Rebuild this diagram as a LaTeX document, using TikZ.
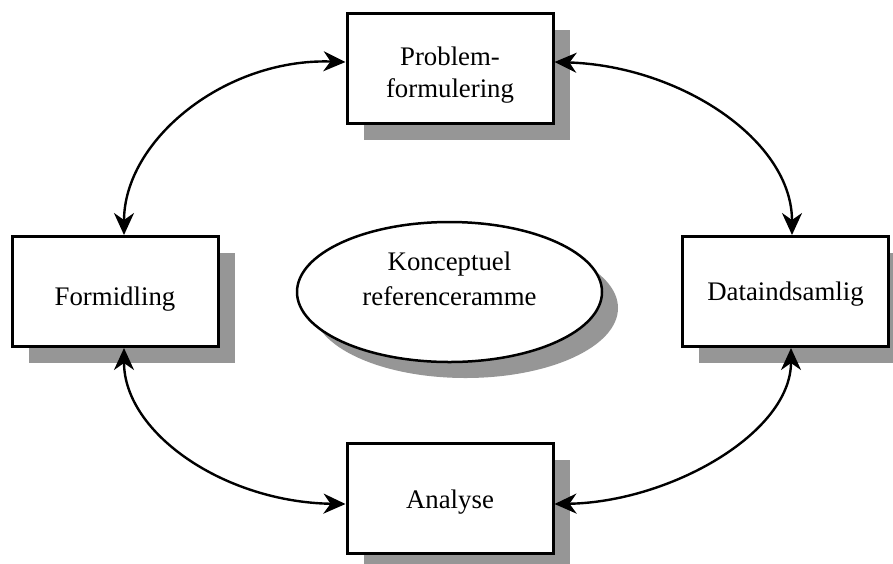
\documentclass[tikz,border=0pt]{standalone}
\usepackage{fontspec}
\setmainfont{Liberation Serif}
\usetikzlibrary{shapes.geometric,shadows,arrows.meta}
\definecolor{shadowgray}{RGB}{150,150,150}
\begin{document}
\begin{tikzpicture}[x=0.5pt,y=-0.5pt,
  boxshape/.style={draw=black, line width=1.5pt, fill=white, rectangle,
    minimum width=103pt, minimum height=55pt, inner sep=0pt,
    drop shadow={shadow xshift=8.25pt, shadow yshift=-8.25pt, opacity=1, fill=shadowgray}},
  lbl/.style={align=center, inner sep=0pt, font=\fontsize{13.4}{16}\selectfont},
  conn/.style={line width=1.2pt, {Stealth[length=11pt,width=10pt,inset=3.5pt]}-{Stealth[length=11pt,width=10pt,inset=3.5pt]}}
]
\useasboundingbox (0,0) rectangle (893,563);
\clip (0,0) rectangle (893,563);

% nodes
\node[boxshape, label={[lbl, yshift=-3.5pt]center:Problem-\\formulering}] (pf) at (450,68) {};
\node[boxshape, label={[lbl, yshift=-3.75pt]center:Formidling}] (form) at (115,291.5) {};
\node[boxshape, label={[lbl, yshift=-1.25pt]center:Dataindsamlig}] (data) at (785.5,291.5) {};
\node[boxshape, label={[lbl, yshift=-2pt]center:Analyse}] (ana) at (450,498) {};
\node[ellipse, draw=black, line width=1.25pt, fill=white, minimum width=152.5pt, minimum height=70pt, inner sep=0pt,
  drop shadow={shadow xshift=8pt, shadow yshift=-8pt, opacity=1, fill=shadowgray},
  label={[lbl, font=\fontsize{13.4}{17.5}\selectfont, yshift=6.75pt]center:Konceptuel\\referenceramme}] (kr) at (449.5,292) {};

% connectors
\draw[conn] ([xshift=4.5pt]form.north) .. controls (124,140) and (225,58) .. ([yshift=3pt]pf.west);
\draw[conn] ([yshift=3pt]pf.east) .. controls (680,66) and (792,140) .. ([xshift=3.25pt]data.north);
\draw[conn] ([xshift=4.5pt]form.south) .. controls (124,433) and (224,502) .. ([yshift=-3pt]ana.west);
\draw[conn] ([xshift=2.75pt]data.south) .. controls (791,433) and (670,502) .. ([yshift=-3pt]ana.east);
\end{tikzpicture}
\end{document}
